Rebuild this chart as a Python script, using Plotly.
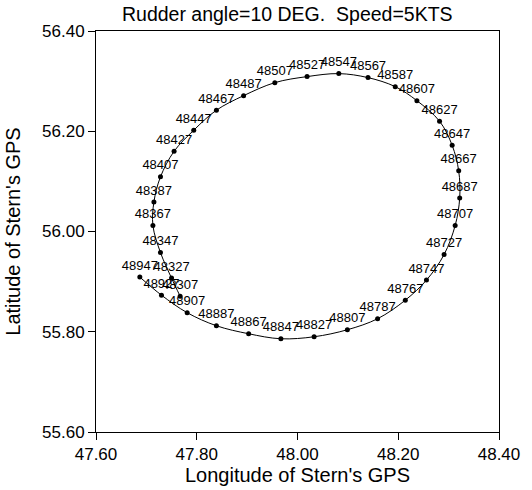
import plotly.graph_objects as go

times = [48307, 48327, 48347, 48367, 48387, 48407, 48427, 48447, 48467, 48487,
         48507, 48527, 48547, 48567, 48587, 48607, 48627, 48647, 48667, 48687,
         48707, 48727, 48747, 48767, 48787, 48807, 48827, 48847, 48867, 48887,
         48907, 48927, 48947]
lon = [47.767, 47.750, 47.728, 47.713, 47.715, 47.728, 47.755, 47.794, 47.839, 47.893,
       47.955, 48.019, 48.082, 48.140, 48.194, 48.237, 48.282, 48.307, 48.320, 48.322,
       48.313, 48.291, 48.256, 48.214, 48.159, 48.099, 48.033, 47.967, 47.903, 47.839,
       47.781, 47.730, 47.687]
lat = [55.871, 55.907, 55.958, 56.012, 56.059, 56.109, 56.160, 56.202, 56.242, 56.271,
       56.297, 56.309, 56.315, 56.307, 56.289, 56.261, 56.220, 56.172, 56.121, 56.067,
       56.012, 55.954, 55.903, 55.863, 55.826, 55.804, 55.790, 55.786, 55.796, 55.812,
       55.838, 55.873, 55.909]
x_ticks = [47.60, 47.80, 48.00, 48.20, 48.40]
y_ticks = [55.60, 55.80, 56.00, 56.20, 56.40]

FONT = "Liberation Sans, Arial, sans-serif"

fig = go.Figure()
fig.add_trace(go.Scatter(
    x=lon, y=lat, mode="lines+markers+text",
    text=[str(t) for t in times], textposition="top center",
    textfont=dict(family=FONT, size=13, color="black"),
    line=dict(color="black", width=1, shape="spline", smoothing=1.0),
    marker=dict(color="black", size=5, symbol="circle"),
    cliponaxis=False, showlegend=False,
))

axis_common = dict(
    showline=True, linecolor="black", linewidth=1, mirror=True,
    ticks="outside", ticklen=7, tickcolor="black", tickwidth=1,
    showgrid=False, zeroline=False,
    tickfont=dict(family=FONT, size=17, color="black"),
)
fig.update_xaxes(range=[47.6, 48.4], tickvals=x_ticks,
                 ticktext=[f"{v:.2f}" for v in x_ticks],
                 title=dict(text="Longitude of Stern's GPS",
                            font=dict(family=FONT, size=20, color="black"), standoff=0),
                 **axis_common)
fig.update_yaxes(range=[55.6, 56.4], tickvals=y_ticks,
                 ticktext=[f"{v:.2f}" for v in y_ticks],
                 title=dict(text="Latitude of Stern's GPS",
                            font=dict(family=FONT, size=20, color="black"), standoff=16),
                 **axis_common)

fig.update_layout(
    width=532, height=490,
    margin=dict(l=95, r=25, t=31, b=56),
    paper_bgcolor="white", plot_bgcolor="white",
    title=dict(text="Rudder angle=10 DEG.  Speed=5KTS",
               font=dict(family=FONT, size=19.5, color="black"),
               x=0.54, xanchor="center", y=0.972, yanchor="middle"),
)

fig.write_html("out.html")
